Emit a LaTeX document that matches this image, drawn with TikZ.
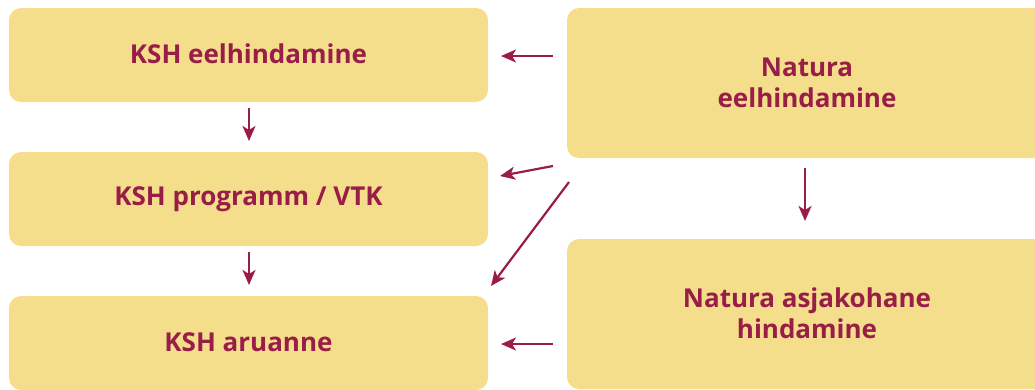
\documentclass[tikz,border=0pt]{standalone}
\usepackage{fontspec}
\setmainfont{Open Sans}
\usetikzlibrary{arrows.meta}
\definecolor{boxfill}{HTML}{F4DE8C}
\definecolor{wine}{HTML}{981D47}
\tikzset{
  box/.style={fill=boxfill, rounded corners=12pt, inner sep=0pt, align=center,
    text=wine, font=\fontsize{26}{31}\selectfont\bfseries},
  conn/.style={draw=wine, line width=2.2pt, -{Stealth[length=15pt,width=13pt,inset=4pt]}}
}
\begin{document}
\begin{tikzpicture}[x=1pt,y=-1pt]
\useasboundingbox (0,0) rectangle (1035,389);
\clip (0,0) rectangle (1035,389);
% left column
\node[box, minimum width=479pt, minimum height=94pt] (k1) at (248.5,55) {\raisebox{2pt}{KSH eelhindamine}};
\node[box, minimum width=479pt, minimum height=94pt] (k2) at (248.5,199) {\raisebox{2pt}{KSH programm / VTK}};
\node[box, minimum width=479pt, minimum height=94pt] (k3) at (248.5,343) {\raisebox{2pt}{KSH aruanne}};
% right column
\node[box, minimum width=480pt, minimum height=150pt] (n1) at (807,83) {Natura\\eelhindamine};
\node[box, minimum width=480pt, minimum height=150pt] (n2) at (807,314) {\raisebox{2pt}{Natura asjakohane}\\\raisebox{2pt}{hindamine}};
% arrow end points
\coordinate (a1s) at (553,56);  \coordinate (a1e) at (501,56);
\coordinate (a2s) at (553,166); \coordinate (a2e) at (500,176);
\coordinate (a3s) at (569,182); \coordinate (a3e) at (491,286);
\coordinate (a4s) at (553,344); \coordinate (a4e) at (501,344);
\coordinate (d1s) at (249,108); \coordinate (d1e) at (249,141);
\coordinate (d2s) at (249,252); \coordinate (d2e) at (249,285);
\coordinate (d3s) at (805,168); \coordinate (d3e) at (805,221);
\draw[conn] (a1s) -- (a1e);
\draw[conn] (a2s) -- (a2e);
\draw[conn] (a3s) -- (a3e);
\draw[conn] (a4s) -- (a4e);
\draw[conn] (d1s) -- (d1e);
\draw[conn] (d2s) -- (d2e);
\draw[conn] (d3s) -- (d3e);
\end{tikzpicture}
\end{document}
